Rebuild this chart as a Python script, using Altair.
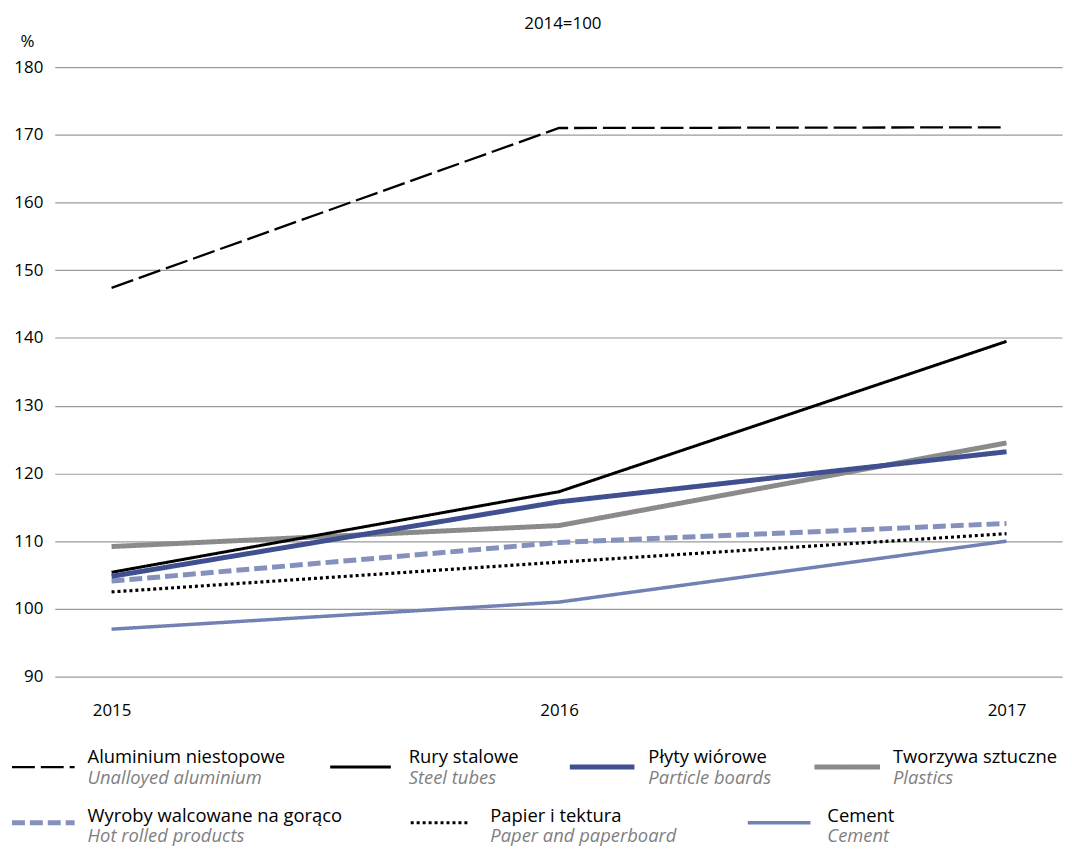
import altair as alt
import pandas as pd

years = [2015, 2016, 2017]
series_pl = ["Aluminium niestopowe", "Rury stalowe", "Płyty wiórowe", "Tworzywa sztuczne",
             "Wyroby walcowane na gorąco", "Papier i tektura", "Cement"]
series_en = ["Unalloyed aluminium", "Steel tubes", "Particle boards", "Plastics",
             "Hot rolled products", "Paper and paperboard", "Cement"]
aluminium = [147.4, 171.0, 171.1]
rury = [105.4, 117.3, 139.5]
plyty = [104.8, 115.8, 123.2]
tworzywa = [109.2, 112.3, 124.5]
wyroby = [104.1, 109.8, 112.6]
papier = [102.5, 106.9, 111.1]
cement = [97.0, 101.0, 110.0]
y_ticks = [90, 100, 110, 120, 130, 140, 150, 160, 170, 180]
subtitle = "2014=100"

values = [aluminium, rury, plyty, tworzywa, wyroby, papier, cement]
colors = ["#000000", "#000000", "#3f4f8f", "#8a8a8a", "#8591bc", "#000000", "#7181b4"]
dashes = [[23, 6], [1, 0], [1, 0], [1, 0], [13, 5], [3, 3], [1, 0]]
widths = [2.3, 3, 5, 5, 5, 3.2, 3.5]
# draw order (first drawn at bottom)
draw_order = [6, 5, 4, 3, 2, 1, 0]

rows = []
for i in draw_order:
    for yr, v in zip(years, values[i]):
        rows.append({"series": series_pl[i], "year": yr, "value": v,
                     "ord": draw_order.index(i), "sw": widths[i]})
df = pd.DataFrame(rows)

FONT = "Open Sans"
W, H = 1013, 613
OX, OY = 55, 65  # plot origin in page coords

color_scale = alt.Scale(domain=series_pl, range=colors)
dash_scale = alt.Scale(domain=series_pl, range=dashes)

x_enc = alt.X("year:Q",
              scale=alt.Scale(domain=[2014.873, 2017.124], nice=False, zero=False),
              axis=alt.Axis(values=years, format="d", grid=False, domain=False, ticks=False,
                            labelPadding=26, labelFontSize=17, labelFont=FONT, labelColor="#000",
                            title=None))
y_enc = alt.Y("value:Q",
              scale=alt.Scale(domain=[90, 180], nice=False, zero=False),
              axis=alt.Axis(values=y_ticks, grid=True, gridColor="#9a9a9a", gridWidth=1.2,
                            domain=False, ticks=False, labelPadding=12, labelFontSize=17,
                            labelFont=FONT, labelColor="#000",
                            title="%", titleAngle=0, titleX=-28, titleY=-26,
                            titleAlign="center", titleBaseline="middle",
                            titleFontSize=17, titleFont=FONT, titleFontWeight="normal",
                            titleColor="#000"))

lines = alt.Chart(df).mark_line(strokeCap="butt", strokeJoin="miter").encode(
    x=x_enc, y=y_enc,
    color=alt.Color("series:N", scale=color_scale, legend=None),
    strokeDash=alt.StrokeDash("series:N", scale=dash_scale, legend=None),
    strokeWidth=alt.StrokeWidth("sw:Q", scale=None, legend=None),
    detail="series:N",
    order=alt.Order("ord:Q"),
)

title_text = alt.Chart(pd.DataFrame({"t": [subtitle]})).mark_text(
    align="center", baseline="middle", font=FONT, fontSize=17, color="#000").encode(
    x=alt.value(566 - OX), y=alt.value(22 - OY), text="t:N")

# legend layout (page coordinates)
sym_x1 = [12, 332, 573, 819, 12, 413, 752]
sym_x2 = [75, 393, 638, 885, 75, 473, 815]
txt_x = [88, 411, 652, 898, 88, 493, 832]
row = [0, 0, 0, 0, 1, 1, 1]
sym_y = [769, 825]
pl_y = [765, 824]
en_y = [786, 844]

leg = pd.DataFrame({
    "series": series_pl,
    "en": series_en,
    "sw": widths,
    "x1": [v - OX for v in sym_x1],
    "x2": [v - OX for v in sym_x2],
    "tx": [v - OX for v in txt_x],
    "sy": [sym_y[r] - OY for r in row],
    "py": [pl_y[r] - OY for r in row],
    "ey": [en_y[r] - OY for r in row],
})

leg_rules = alt.Chart(leg).mark_rule(strokeCap="butt").encode(
    x=alt.X("x1:Q", scale=None),
    x2="x2:Q",
    y=alt.Y("sy:Q", scale=None),
    color=alt.Color("series:N", scale=color_scale, legend=None),
    strokeDash=alt.StrokeDash("series:N", scale=dash_scale, legend=None),
    strokeWidth=alt.StrokeWidth("sw:Q", scale=None, legend=None),
)
leg_pl = alt.Chart(leg).mark_text(align="left", baseline="alphabetic", font=FONT, fontSize=18.5,
                                  color="#000").encode(
    x=alt.X("tx:Q", scale=None), y=alt.Y("py:Q", scale=None), text="series:N")
leg_en = alt.Chart(leg).mark_text(align="left", baseline="alphabetic", font=FONT, fontSize=18.5,
                                  fontStyle="italic", color="#7f7f7f").encode(
    x=alt.X("tx:Q", scale=None), y=alt.Y("ey:Q", scale=None), text="en:N")

chart = alt.layer(lines, title_text, leg_rules, leg_pl, leg_en).properties(
    width=W, height=H,
    autosize=alt.AutoSizeParams(type="none"),
    padding={"left": 47, "top": 57, "right": 2, "bottom": 170},
).configure_view(stroke=None)

chart.save("out.html", embed_options={"renderer": "svg", "actions": False})
